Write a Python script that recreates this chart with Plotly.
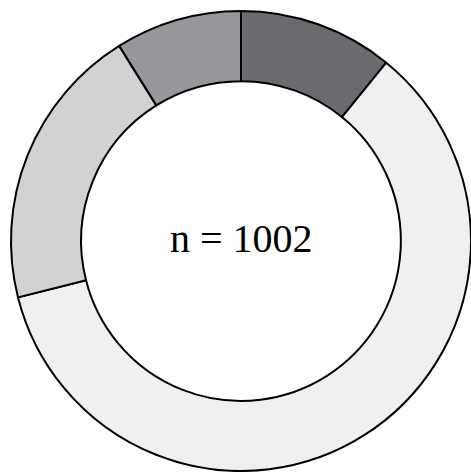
import plotly.graph_objects as go

labels = ['A', 'B', 'C', 'D']
counts = [109, 603, 201, 89]
colors = ['#6b6b6f', '#f0f0f0', '#d2d2d4', '#97979b']
total = sum(counts)

fig = go.Figure(go.Pie(
    labels=labels,
    values=counts,
    hole=0.695,
    sort=False,
    direction='clockwise',
    rotation=0,
    marker=dict(colors=colors, line=dict(color='black', width=2)),
    textinfo='none',
    hoverinfo='none',
    showlegend=False,
))

fig.add_annotation(
    text=f'n = {total}',
    x=0.5, y=0.5, xref='paper', yref='paper',
    yshift=3,
    showarrow=False,
    font=dict(family='Liberation Serif', size=40, color='black'),
)

fig.update_layout(
    width=471, height=472,
    margin=dict(l=11, r=0, t=11, b=1),
    paper_bgcolor='white',
    plot_bgcolor='white',
)

# page has a default 8px body margin, drop it so the figure sits at 0,0
fig.write_html("out.html", config={'displayModeBar': False},
               post_script="document.body.style.margin='0';")
